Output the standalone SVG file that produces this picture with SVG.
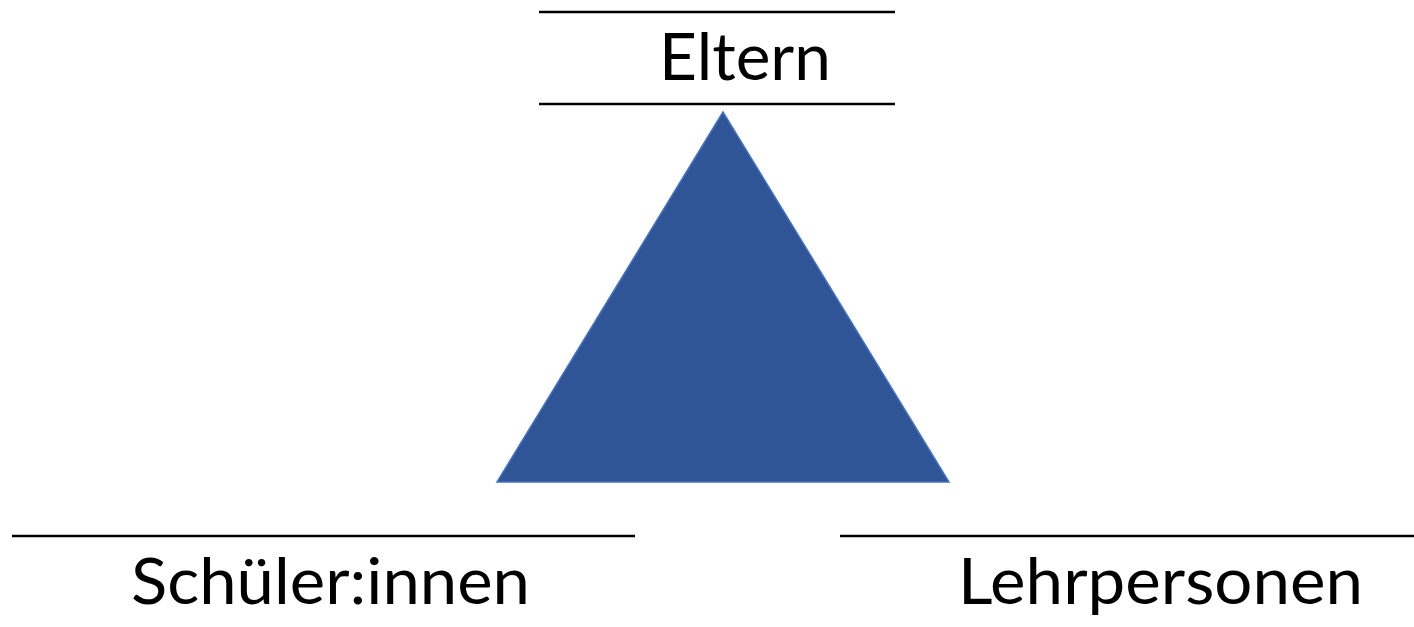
<svg xmlns="http://www.w3.org/2000/svg" width="1414" height="627" viewBox="0 0 1414 627">
<style>
.ln{stroke:#000;stroke-width:2.5;fill:none}
.lbl{font-family:Lato,"Noto Sans",sans-serif;fill:#000}
</style>
<rect width="1414" height="627" fill="#fff"/>
<g id="connectors">
<line class="ln" x1="539" y1="12" x2="895" y2="12"/>
<line class="ln" x1="539" y1="104" x2="895" y2="104"/>
<line class="ln" x1="12" y1="536" x2="635" y2="536"/>
<line class="ln" x1="840" y1="536" x2="1414" y2="536"/>
</g>
<g id="triangle">
<polygon points="723,112 497,482 949,482" fill="#2F5597" stroke="#4472C4" stroke-width="1.5"/>
</g>
<g id="eltern">
<text class="lbl" x="745" y="80" font-size="66" text-anchor="middle" textLength="172" lengthAdjust="spacingAndGlyphs">Eltern</text>
</g>
<g id="schueler">
<text class="lbl" x="131" y="604" font-size="64" textLength="399" lengthAdjust="spacingAndGlyphs">Schüler:innen</text>
</g>
<g id="lehrpersonen">
<text class="lbl" x="958" y="604" font-size="64" textLength="405" lengthAdjust="spacingAndGlyphs">Lehrpersonen</text>
</g>
</svg>
